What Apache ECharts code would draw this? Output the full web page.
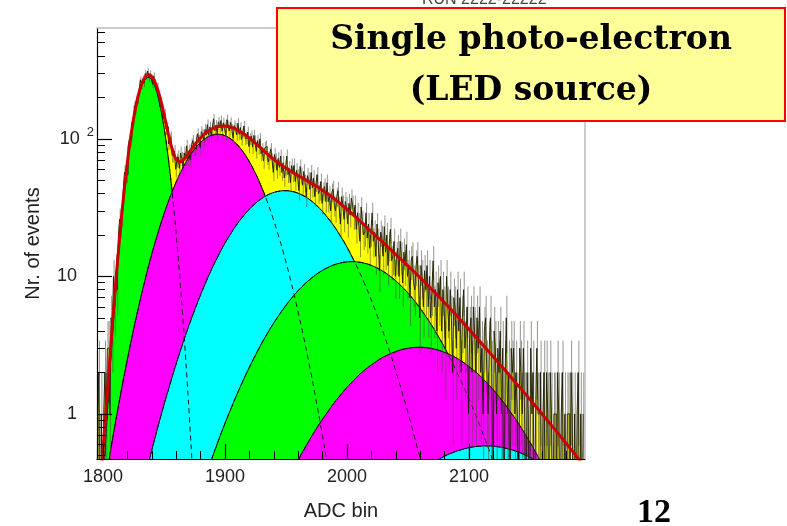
<!DOCTYPE html>
<html>
<head>
<meta charset="utf-8">
<script src="https://cdn.jsdelivr.net/npm/echarts@6/dist/echarts.min.js"></script>
<style>
html,body{margin:0;padding:0;background:#fff;}
#chart{width:787px;height:526px;}
</style>
</head>
<body>
<div id="chart"></div>
<script>
// ---------------- data ----------------
// axis ticks
const xMajorTicks = [1800, 1900, 2000, 2100];
const xMinorTicks = [1800,1820,1840,1860,1880,1900,1920,1940,1960,1980,2000,2020,2040,2060,2080,2100,2120,2140,2160,2180];
const yMajorTicks = [1, 10, 100];
const yMinorTicks = [0.5,0.6,0.7,0.8,0.9,2,3,4,5,6,7,8,9,20,30,40,50,60,70,80,90,200,300,400,500,600];

// histogram: counts per ADC bin, starting at bin 1795
const histStart = 1795;
const histCounts = [
0,1,2,0,1,0,1,2,1,3,
3,1,5,4,10,6,11,8,19,26,
24,28,42,57,55,55,89,96,98,132,
135,173,164,199,192,225,269,244,272,254,
299,287,311,276,298,279,249,287,256,228,
240,206,171,187,167,140,153,118,122,92,
99,103,76,76,81,60,70,74,61,79,
72,62,79,72,89,72,82,70,91,97,
86,84,99,109,97,86,113,108,98,117,
107,127,106,122,105,119,140,115,126,108,
133,122,136,114,131,121,107,138,125,114,
132,117,101,125,120,107,130,108,121,99,
113,124,100,102,112,88,100,105,87,106,
96,81,97,86,100,78,84,69,86,88,
73,68,78,84,70,57,77,70,59,72,
62,75,57,67,52,61,75,55,61,48,
64,56,64,49,59,53,42,63,54,46,
58,48,38,54,50,43,57,44,52,38,
48,55,40,42,49,34,42,45,35,48,
35,39,30,41,43,33,30,38,42,32,
24,38,33,26,35,32,24,34,28,37,
33,27,33,22,29,24,18,32,25,20,
21,29,19,24,16,21,29,18,21,14,
24,18,11,21,19,14,23,15,20,12,
17,22,13,14,18,10,14,16,10,18,
14,9,15,12,17,10,12,7,13,14,
9,8,12,14,9,5,12,10,6,11,
8,12,6,10,5,8,13,6,8,4,
9,7,10,4,8,6,3,10,6,4,
8,5,2,7,6,3,8,4,7,2,
5,8,3,4,6,1,4,5,2,6,
4,2,5,3,6,2,3,1,4,5,
2,1,3,5,2,0,4,3,1,3,
2,4,1,3,0,2,5,1,2,0,
3,2,3,1,2,1,0,3,2,1,
3,1,0,2,1,0,3,1,2,0,
1,3,1,1,2,0,1,2,0,2,
1,0,2,1,0,1,1,0,2,1,
0,1,2,0,1,0,1,1,0,2,
1,0,1,0,1,2,0,1,0,1
];

// fitted components (pedestal, 1..5 photo-electrons): sampled curves
const pedStart = 1797, pedStep = 2;
const pedVals = [0.094,0.205,0.429,0.866,1.67,3.11,5.55,9.53,15.7,24.9,37.9,55.4,77.8,105,136,170,203,234,258,274,
  280,274,258,234,203,170,136,105,77.8,55.4,37.9,24.9,15.7,9.53,5.55,3.11,1.67,0.866,0.429,0.205,0.094];

const pe1Start = 1794, pe1Step = 5;
const pe1Vals = [0.113,0.221,0.417,0.761,1.34,2.28,3.75,5.95,9.15,13.6,19.4,26.9,36.0,46.6,58.2,70.4,82.1,92.6,100.8,106.2,
  108,106.2,100.8,92.6,82.1,70.4,58.2,46.6,36.0,26.9,19.4,13.6,9.15,5.95,3.75,2.28,1.34,0.761,0.417,0.221,0.113];

const pe2Start = 1819, pe2Step = 5;
const pe2Vals = [0.088,0.140,0.218,0.335,0.506,0.749,1.09,1.55,2.18,3.00,4.06,5.38,7.02,8.97,11.3,13.9,16.9,20.0,23.4,26.8,30.2,33.4,36.3,38.7,40.5,41.6,
  42,41.6,40.5,38.7,36.3,33.4,30.2,26.8,23.4,20.0,16.9,13.9,11.3,8.97,7.02,5.38,4.06,3.00,2.18,1.55,1.09,0.749,0.506,0.335,0.218,0.140,0.088];

const pe3Start = 1864, pe3Step = 5;
const pe3Vals = [0.095,0.134,0.187,0.257,0.350,0.470,0.622,0.814,1.05,1.34,1.69,2.10,2.58,3.14,3.76,4.45,5.20,6.01,6.85,7.72,8.58,9.42,10.22,10.95,11.58,12.10,12.48,12.72,
  12.8,12.72,12.48,12.10,11.58,10.95,10.22,9.42,8.58,7.72,6.85,6.01,5.20,4.45,3.76,3.14,2.58,2.10,1.69,1.34,1.05,0.814,0.622,0.470,0.350,0.257,0.187,0.134,0.095];

const pe4Start = 1924, pe4Step = 5;
const pe4Vals = [0.0916,0.118,0.151,0.191,0.240,0.298,0.366,0.446,0.538,0.642,0.760,0.891,1.03,1.19,1.35,1.53,1.70,1.89,2.07,2.24,2.41,2.57,2.70,2.82,2.92,2.99,3.035,
  3.05,3.035,2.99,2.92,2.82,2.70,2.57,2.41,2.24,2.07,1.89,1.70,1.53,1.35,1.19,1.03,0.891,0.760,0.642,0.538,0.446,0.366,0.298,0.240,0.191,0.151,0.118,0.0916];

const pe5Start = 2054, pe5Step = 5;
const pe5Vals = [0.343,0.373,0.403,0.433,0.461,0.488,0.512,0.533,0.551,0.566,0.576,0.583,0.585,0.583,0.576,0.566,0.551,0.533,0.512,0.488,0.461,0.433,0.403,0.373,0.343,0.312,0.282,0.254,0.226];

// total fit (red curve)
const totAStart = 1797, totAStep = 2;
const totAVals = [0.271,0.436,0.726,1.25,2.16,3.73,6.34,10.5,16.9,26.5,39.8,57.8,80.7,108.5,140.3,175.1,209.1,241.3,266.7,284.2,
  292.0,288.0,274.2,252.7,224.5,194.6,163.9,136.5,113.4,95.1,82.0,73.7,69.4,68.2,69.4,72.2,76.1,80.6,85.3,90.2,95.0,99.6,103.9];
const totBStart = 1884, totBStep = 5;
const totBVals = [110.1,118.0,122.5,123.9,121.9,117.4,110.6,102.8,94.3,86.2,78.6,72.0,66.4,61.9,58.0,54.6,51.6,48.7,45.75,42.84,
  39.87,36.97,34.01,31.29,28.52,26.03,23.65,21.52,19.55,17.79,16.16,14.69,13.35,12.13,10.99,9.96,9.00,8.12,7.31,6.57,
  5.89,5.28,4.72,4.21,3.75,3.35,2.98,2.66,2.36,2.10,1.86,1.65,1.47,1.30,1.15,1.02,0.90,0.795,0.703,0.619,0.546,0.48,0.423];

// ---------------- build chart ----------------
const ZERO_FLOOR = 0.1; // empty bins drawn below the axis bottom (log scale)
const seq = (start, step, vals) => vals.map((v, i) => [start + i * step, v]);
const histData = histCounts.map((c, i) => [histStart + i, c > 0 ? c : ZERO_FLOOR]);
const errData = histCounts.map((c, i) => [histStart + i, c, Math.sqrt(c)])
  .filter(d => d[1] > 0)
  .map(d => [d[0], Math.max(d[1] - d[2], ZERO_FLOOR), d[1] + d[2]]);
const totalData = seq(totAStart, totAStep, totAVals).concat(seq(totBStart, totBStep, totBVals));

const comps = [
  {data: seq(pedStart, pedStep, pedVals), color: '#00ff00'},
  {data: seq(pe1Start, pe1Step, pe1Vals), color: '#ff00ff'},
  {data: seq(pe2Start, pe2Step, pe2Vals), color: '#00ffff'},
  {data: seq(pe3Start, pe3Step, pe3Vals), color: '#00ff00'},
  {data: seq(pe4Start, pe4Step, pe4Vals), color: '#ff00ff'},
  {data: seq(pe5Start, pe5Step, pe5Vals), color: '#00ffff'}
];

const AX_FONT = 'Liberation Sans, Arial, Helvetica, sans-serif';
const X_MIN = 1795, X_MAX = 2195, Y_MIN = 0.47, Y_MAX = 640;

const series = [];
let zc = 2;
series.push({
  type: 'line', z: zc++, step: 'middle', data: histData, showSymbol: false, silent: true,
  lineStyle: {width: 0, opacity: 0},
  areaStyle: {color: '#ffff00', opacity: 1, origin: 'start'}
});
comps.forEach(c => series.push({
  type: 'line', z: zc++, smooth: true, data: c.data, showSymbol: false, silent: true,
  lineStyle: {color: '#000', width: 1},
  areaStyle: {color: c.color, opacity: 1, origin: 'start'}
}));
const zDash = zc++;
comps.forEach(c => series.push({
  type: 'line', z: zDash, smooth: true, data: c.data, showSymbol: false, silent: true,
  lineStyle: {color: '#111', width: 1, type: [5, 4]}
}));
series.push({
  type: 'custom', z: zc++, data: errData, clip: true, silent: true,
  encode: {x: 0, y: [1, 2]},
  renderItem: function (params, api) {
    const p1 = api.coord([api.value(0), api.value(1)]);
    const p2 = api.coord([api.value(0), api.value(2)]);
    return {type: 'line', shape: {x1: p1[0], y1: p1[1], x2: p2[0], y2: p2[1]},
            style: {stroke: 'rgba(80,80,70,0.6)', lineWidth: 1}};
  }
});
series.push({
  type: 'line', z: zc++, step: 'middle', data: histData, showSymbol: false, silent: true,
  lineStyle: {color: 'rgba(30,30,10,0.9)', width: 1}
});
series.push({
  type: 'line', z: zc++, smooth: true, data: totalData, showSymbol: false, silent: true,
  lineStyle: {color: '#cc0000', width: 3}
});
const zAxis = 40;

const chart = echarts.init(document.getElementById('chart'), null, {renderer: 'canvas'});
chart.setOption({
  animation: false,
  backgroundColor: '#ffffff',
  grid: {left: 97, top: 28, width: 488, height: 437},
  xAxis: [
    {type: 'value', min: X_MIN, max: X_MAX, position: 'bottom', z: zAxis,
     name: 'ADC bin', nameLocation: 'middle', nameGap: 42,
     nameTextStyle: {fontFamily: AX_FONT, fontSize: 20, color: '#222'},
     axisLine: {show: true, lineStyle: {color: '#000', width: 1.2}},
     axisTick: {show: true, inside: true, length: 15, customValues: xMajorTicks, lineStyle: {color: '#000', width: 1.2}},
     axisLabel: {customValues: xMajorTicks, margin: 9, fontFamily: AX_FONT, fontSize: 18, color: '#222',
                 formatter: v => String(Math.round(v))},
     splitLine: {show: false}},
    {type: 'value', min: X_MIN, max: X_MAX, position: 'bottom', z: zAxis,
     axisLine: {show: false},
     axisTick: {show: true, inside: true, length: 8, customValues: xMinorTicks, lineStyle: {color: '#000', width: 1}},
     axisLabel: {show: false}, splitLine: {show: false}},
    {type: 'value', min: X_MIN, max: X_MAX, position: 'top', z: zAxis,
     axisLine: {show: true, lineStyle: {color: '#bbb', width: 1.5}},
     axisTick: {show: false}, axisLabel: {show: false}, splitLine: {show: false}}
  ],
  yAxis: [
    {type: 'log', logBase: 10, min: Y_MIN, max: Y_MAX, position: 'left', z: zAxis,
     name: 'Nr. of events', nameLocation: 'middle', nameGap: 54, nameRotate: 90,
     nameTextStyle: {fontFamily: AX_FONT, fontSize: 20, color: '#222'},
     axisLine: {show: true, lineStyle: {color: '#000', width: 1.2}},
     axisTick: {show: true, inside: true, length: 15, customValues: yMajorTicks, lineStyle: {color: '#000', width: 1.2}},
     axisLabel: {customValues: yMajorTicks, margin: 3,
       formatter: function (v) {
         if (Math.abs(v - 100) < 1e-6) return '{c|10}{s|2}';
         if (Math.abs(v - 10) < 1e-6) return '{b|10}';
         return '{b|1}';
       },
       rich: {
         b: {fontFamily: AX_FONT, fontSize: 18, color: '#222', padding: [0, 17, 0, 0]},
         c: {fontFamily: AX_FONT, fontSize: 18, color: '#222'},
         s: {fontFamily: AX_FONT, fontSize: 13, color: '#222', padding: [0, 0, 12, 7]}
       }},
     splitLine: {show: false}},
    {type: 'log', logBase: 10, min: Y_MIN, max: Y_MAX, position: 'left', z: zAxis,
     axisLine: {show: false},
     axisTick: {show: true, inside: true, length: 8, customValues: yMinorTicks, lineStyle: {color: '#000', width: 1}},
     axisLabel: {show: false}, splitLine: {show: false}},
    {type: 'log', logBase: 10, min: Y_MIN, max: Y_MAX, position: 'right', z: zAxis,
     axisLine: {show: true, lineStyle: {color: '#bbb', width: 1.5}},
     axisTick: {show: false}, axisLabel: {show: false}, splitLine: {show: false}}
  ],
  series: series,
  graphic: [
    {type: 'text', left: 422, top: -8, z: 99, silent: true,
     style: {text: 'RUN 2222-22222', fontFamily: AX_FONT, fontSize: 16, fill: '#444'}},
    {type: 'rect', z: 100, silent: true,
     shape: {x: 277, y: 8, width: 508, height: 113},
     style: {fill: '#ffff99', stroke: '#ff0000', lineWidth: 2}},
    {type: 'text', z: 101, silent: true,
     style: {text: 'Single photo-electron', x: 531, y: 40, textAlign: 'center', textVerticalAlign: 'middle',
             fontFamily: 'DejaVu Serif, serif', fontWeight: 'bold', fontSize: 33, fill: '#000'}},
    {type: 'text', z: 101, silent: true,
     style: {text: '(LED source)', x: 531, y: 91, textAlign: 'center', textVerticalAlign: 'middle',
             fontFamily: 'DejaVu Serif, serif', fontWeight: 'bold', fontSize: 33, fill: '#000'}},
    {type: 'text', z: 101, silent: true,
     style: {text: '12', x: 637, y: 513, textAlign: 'left', textVerticalAlign: 'middle',
             fontFamily: 'Liberation Serif, Times New Roman, serif', fontWeight: 'bold', fontSize: 34, fill: '#000'}}
  ]
});
</script>
</body>
</html>
